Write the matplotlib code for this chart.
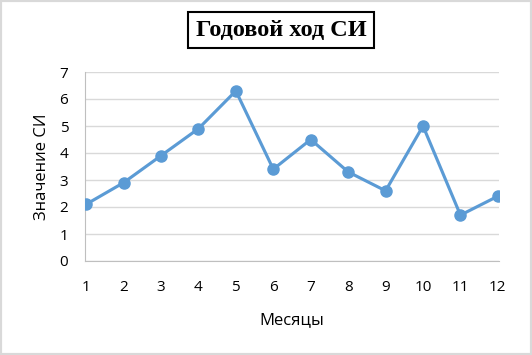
import matplotlib.pyplot as plt
from matplotlib.patches import Rectangle

months = [1, 2, 3, 4, 5, 6, 7, 8, 9, 10, 11, 12]
values = [2.1, 2.9, 3.9, 4.9, 6.3, 3.4, 4.5, 3.3, 2.6, 5.0, 1.7, 2.4]

plt.rcParams['font.family'] = ['Open Sans', 'DejaVu Sans']

fig = plt.figure(figsize=(5.32, 3.55), dpi=100)
ax = fig.add_axes([85 / 532, 1 - 261 / 355, 414 / 532, 189 / 355])

ax.plot(months, values, color='#5b9bd5', lw=2.25, marker='o', ms=8,
        markeredgecolor='#5b9bd5', zorder=3)

ax.set_xlim(0.97, 12.03)
ax.set_ylim(0, 7)
ax.set_xticks(months)
ax.set_yticks(range(8))
ax.grid(axis='y', color='#d9d9d9', lw=1)
ax.set_axisbelow(True)
for s in ['top', 'right']:
    ax.spines[s].set_visible(False)
for s in ['left', 'bottom']:
    ax.spines[s].set_color('#bfbfbf')
ax.tick_params(length=0, labelsize=11, labelcolor='black')
ax.tick_params(axis='y', pad=12)
ax.tick_params(axis='x', pad=14)

ax.set_xlabel('Месяцы', fontsize=12, labelpad=12)
ax.set_ylabel('Значение СИ', fontsize=12, labelpad=7)

fig.text(281 / 532, 1 - 30 / 355, 'Годовой ход СИ', ha='center', va='center',
         fontsize=17.5, fontweight='bold', family='Liberation Serif',
         bbox=dict(boxstyle='square,pad=0.3', fc='white', ec='black', lw=1.5))

fig.patches.append(Rectangle((0, 0), 1, 1, transform=fig.transFigure,
                             fill=False, ec='#d9d9d9', lw=3))

fig.savefig('out.png', dpi=100)
